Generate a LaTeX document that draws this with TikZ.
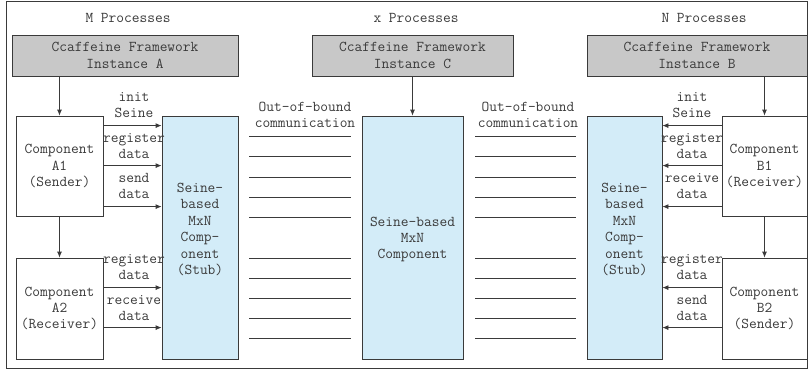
\documentclass[tikz,border=0pt]{standalone}
\usepackage{fontspec}
\usetikzlibrary{arrows.meta,calc,positioning}
\definecolor{fwgray}{HTML}{C8C8C8}
\definecolor{seineblue}{HTML}{D3ECF8}
\definecolor{inkgray}{HTML}{3A3A3A}

\begin{document}
\begin{tikzpicture}[x=1bp,y=-1bp,
    every node/.style={font=\ttfamily\fontsize{15bp}{16.4bp}\selectfont, text=inkgray, align=center},
    framework/.style={draw=inkgray, thick, fill=fwgray, minimum height=41bp, inner sep=0pt},
    comp/.style={draw=inkgray, thick, fill=white, minimum width=87bp, minimum height=100bp, inner sep=0pt},
    seine/.style={draw=inkgray, thick, fill=seineblue, minimum height=243bp, inner sep=0pt},
    lbl/.style={inner sep=0pt},
    call/.style={draw=inkgray, thick, -{Latex[length=6bp,width=5bp]}},
    oob/.style={draw=inkgray, thick}]
    \useasboundingbox (0,0) rectangle (809,373);
    \draw[inkgray, thick] (6,1) rectangle (807,368);

    \node at (128,18) (mproc) {M Processes};
    \node at (416,18) (xproc) {x Processes};
    \node at (704,18) (nproc) {N Processes};

    \node[framework, minimum width=226bp] at (125,55.5) (insta) {Ccaffeine Framework\\Instance A};
    \node[framework, minimum width=201bp] at (412.5,55.5) (instc) {Ccaffeine Framework\\Instance C};
    \node[framework, minimum width=220bp] at (697,55.5) (instb) {Ccaffeine Framework\\Instance B};

    \node[comp] at (59.5,166) (a1) {Component\\A1\\(Sender)};
    \node[comp, minimum height=101bp] at (59.5,308.5) (a2) {Component\\A2\\(Receiver)};
    \node[seine, minimum width=76bp] at (200,237.5) (stuba) {};
    \node[lbl] at ([yshift=8bp]stuba.center) (stubatxt) {Seine-\\based\\MxN\\Comp-\\onent\\(Stub)};
    \node[seine, minimum width=101bp] at (412.5,237.5) (mxn) {};
    \node[lbl] at ([yshift=-2bp]mxn.center) (mxntxt) {Seine-based\\MxN\\Component};
    \node[seine, minimum width=75bp] at (624.5,237.5) (stubb) {};
    \node[lbl] at ([yshift=8bp]stubb.center) (stubbtxt) {Seine-\\based\\MxN\\Comp-\\onent\\(Stub)};
    \node[comp, minimum width=85bp] at (764.5,166) (b1) {Component\\B1\\(Receiver)};
    \node[comp, minimum width=85bp, minimum height=101bp] at (764.5,308.5) (b2) {Component\\B2\\(Sender)};

    \draw[call] (a1.north |- insta.south) -- (a1.north);
    \draw[call] (a1.south) -- (a2.north);
    \draw[call] (instc.south -| mxn.north) -- (mxn.north);
    \draw[call] (b1.north |- instb.south) -- (b1.north);
    \draw[call] (b1.south) -- (b2.north);

    \draw[call] ([yshift=-10bp]a1.north east) -- ([yshift=-10bp]a1.north east -| stuba.west);
    \draw[call] ([yshift=-50bp]a1.north east) -- ([yshift=-50bp]a1.north east -| stuba.west);
    \draw[call] ([yshift=-91bp]a1.north east) -- ([yshift=-91bp]a1.north east -| stuba.west);
    \draw[call] ([yshift=-30bp]a2.north east) -- ([yshift=-30bp]a2.north east -| stuba.west);
    \draw[call] ([yshift=-70bp]a2.north east) -- ([yshift=-70bp]a2.north east -| stuba.west);

    \draw[call] ([yshift=-10bp]b1.north west) -- ([yshift=-10bp]b1.north west -| stubb.east);
    \draw[call] ([yshift=-50bp]b1.north west) -- ([yshift=-50bp]b1.north west -| stubb.east);
    \draw[call] ([yshift=-91bp]b1.north west) -- ([yshift=-91bp]b1.north west -| stubb.east);
    \draw[call] ([yshift=-30bp]b2.north west) -- ([yshift=-30bp]b2.north west -| stubb.east);
    \draw[call] ([yshift=-70bp]b2.north west) -- ([yshift=-70bp]b2.north west -| stubb.east);

    \node[lbl] at (134,105) (ainit) {init\\Seine};
    \node[lbl] at (134,146) (areg1) {register\\data};
    \node[lbl] at (134,186) (asend) {send\\data};
    \node[lbl] at (134,267) (areg2) {register\\data};
    \node[lbl] at (134,308) (arecv) {receive\\data};

    \node[lbl] at (692,105) (binit) {init\\Seine};
    \node[lbl] at (692,146) (breg1) {register\\data};
    \node[lbl] at (692,186) (brecv) {receive\\data};
    \node[lbl] at (692,267) (breg2) {register\\data};
    \node[lbl] at (692,308) (bsend) {send\\data};

    \node[lbl] at (305,115) (oobl) {Out-of-bound\\communication};
    \node[lbl] at (528,115) (oobr) {Out-of-bound\\communication};

    \foreach \y in {136,156,177,197,217,258,278,298,318,338} {
      \draw[oob] (249,\y) -- (351,\y);
      \draw[oob] (475,\y) -- (576,\y);
    }
  \end{tikzpicture}
\end{document}
